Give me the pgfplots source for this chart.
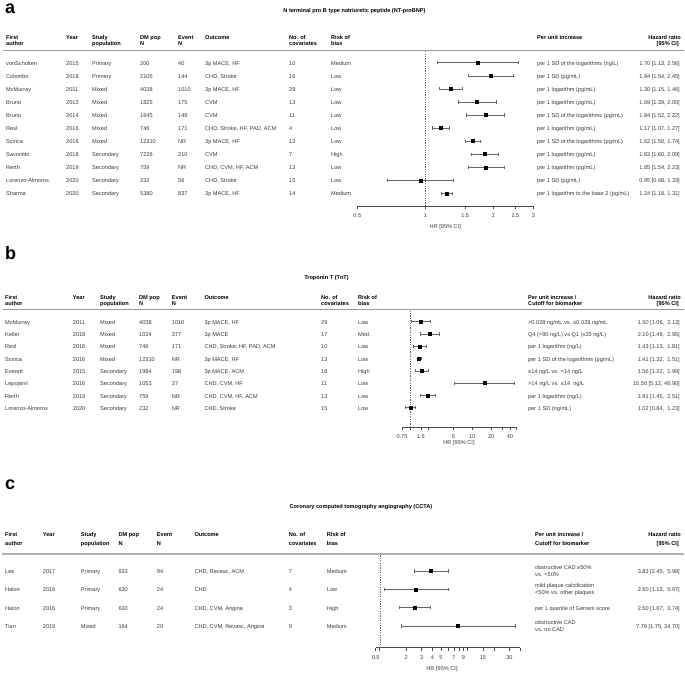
\documentclass[border=0pt]{standalone}
\usepackage{fontspec}
\setmainfont{Liberation Sans}
\usepackage{pgfplots}
\pgfplotsset{compat=1.18}

\newcommand\tf{\fontsize{5.6}{7.2}\selectfont}

\tikzset{
  txt/.style={anchor=mid west, inner sep=0pt, font=\tf, text=black!78},
  two/.style={anchor=west, inner sep=0pt, font=\tf, text=black!78, align=left},
  hd/.style={anchor=mid west, inner sep=0pt, font=\tf\bfseries},
  hrv/.style={anchor=mid east, inner sep=0pt, font=\tf, text=black!78},
  ttl/.style={inner sep=0pt, font=\tf\bfseries},
  lab/.style={anchor=west, inner sep=0pt, font=\fontsize{18}{18}\selectfont\bfseries},
  ciline/.style={black!60, line width=0.45pt, mark=|, mark size=1.6pt,
    mark options={solid, line width=0.45pt}},
  hrmark/.style={only marks, mark=square*, mark size=1.5pt, black},
  refline/.style={black!60, line width=0.4pt, dash pattern=on 1.2pt off 1.2pt},
}

\pgfplotsset{every axis/.append style={
    scale only axis, clip=false,
    axis x line*=bottom, axis y line=none,
    x axis line style={black!70, line width=0.5pt},
    tick align=outside, major tick length=3pt,
    every tick/.append style={black!70, line width=0.5pt},
    /pgf/number format/assume math mode=true,
    xticklabel style={font=\tf, text=black!78, inner sep=1pt, yshift=-3.5pt},
    xlabel style={font=\tf, text=black!78, at={(axis description cs:0.5,0)}, anchor=center, yshift=-21pt},
    ytick=\empty,
}}

% table row: y, author, year, population, DM pop, events, outcome, covariates, risk
\newcommand\trow[9]{%
  \node[txt] at (\cA,-#1) {#2};
  \node[txt] at (\cB,-#1) {#3};
  \node[txt] at (\cC,-#1) {#4};
  \node[txt] at (\cD,-#1) {#5};
  \node[txt] at (\cE,-#1) {#6};
  \node[txt] at (\cF,-#1) {#7};
  \node[txt] at (\cG,-#1) {#8};
  \node[txt] at (\cH,-#1) {#9};}
% header: y1, y2
\newcommand\hdr[2]{%
  \node[hd] at (\cA,-#1) {First}; \node[hd] at (\cA,-#2) {author};
  \node[hd] at (\cB,-#1) {Year};
  \node[hd] at (\cC,-#1) {Study}; \node[hd] at (\cC,-#2) {population};
  \node[hd] at (\cD,-#1) {DM pop}; \node[hd] at (\cD,-#2) {N};
  \node[hd] at (\cE,-#1) {Event}; \node[hd] at (\cE,-#2) {N};
  \node[hd] at (\cF,-#1) {Outcome};
  \node[hd] at (\cG,-#1) {No. of}; \node[hd] at (\cG,-#2) {covariates};
  \node[hd] at (\cH,-#1) {Risk of}; \node[hd] at (\cH,-#2) {bias};
  \node[hd, anchor=mid east] at (681,-#1) {Hazard ratio};
  \node[hd, anchor=mid east] at (679,-#2) {[95\% CI]};}

\begin{document}
\begin{tikzpicture}[x=1pt,y=1pt]
\path (0,0) rectangle (685,-673);

%% ---------------- a: NT-proBNP ----------------
\def\cA{6}\def\cB{66}\def\cC{92}\def\cD{140}\def\cE{178}\def\cF{205}\def\cG{289}\def\cH{331}\def\cI{537}
\node[lab] at (5,-9) {a};
\node[ttl] at (354.5,-11.5) {N terminal pro B type natriuretic peptide (NT-proBNP)};
\hdr{37}{42.5}
\node[hd] at (\cI,-37) {Per unit increase};
\draw[black!40, line width=1pt] (3,-50.5) -- (684,-50.5);

\trow{62.7}{vonScholten}{2015}{Primary}{200}{40}{3p MACE, HF}{10}{Medium}
\trow{75.8}{Colombo}{2018}{Primary}{2105}{144}{CHD, Stroke}{16}{Low}
\trow{88.8}{McMurray}{2011}{Mixed}{4038}{1010}{3p MACE, HF}{29}{Low}
\trow{101.9}{Bruno}{2013}{Mixed}{1825}{175}{CVM}{13}{Low}
\trow{114.9}{Bruno}{2014}{Mixed}{1645}{149}{CVM}{11}{Low}
\trow{128.0}{Resl}{2016}{Mixed}{746}{171}{CHD, Stroke, HF, PAD, ACM}{4}{Low}
\trow{141.1}{Scirica}{2016}{Mixed}{12310}{NR}{3p MACE, HF}{13}{Low}
\trow{154.1}{Savonitto}{2018}{Secondary}{7226}{210}{CVM}{7}{High}
\trow{167.2}{Rerth}{2019}{Secondary}{759}{NR}{CHD, CVM, HF, ACM}{13}{Low}
\trow{180.2}{Lorenzo-Almoros}{2020}{Secondary}{232}{56}{CHD, Stroke}{15}{Low}
\trow{193.3}{Sharma}{2020}{Secondary}{5380}{837}{3p MACE, HF}{14}{Medium}

\node[txt] at (\cI,-62.7) {per 1 SD of the logarithms (ng/L)};
\node[txt] at (\cI,-75.8) {per 1 SD (pg/mL)};
\node[txt] at (\cI,-88.8) {per 1 logarithm (pg/mL)};
\node[txt] at (\cI,-101.9) {per 1 logarithm (pg/mL)};
\node[txt] at (\cI,-114.9) {per 1 SD of the logarithms (pg/mL)};
\node[txt] at (\cI,-128.0) {per 1 logarithm (pg/mL)};
\node[txt] at (\cI,-141.1) {per 1 SD of the logarithms (pg/mL)};
\node[txt] at (\cI,-154.1) {per 1 logarithm (pg/mL)};
\node[txt] at (\cI,-167.2) {per 1 logarithm (pg/mL)};
\node[txt] at (\cI,-180.2) {per 1 SD (pg/mL)};
\node[txt] at (\cI,-193.3) {per 1 logarithm to the base 2 (pg/mL)};

\node[hrv] at (680,-62.7) {1.70 [1.13, 2.56]};
\node[hrv] at (680,-75.8) {1.94 [1.54, 2.45]};
\node[hrv] at (680,-88.8) {1.30 [1.15, 1.46]};
\node[hrv] at (680,-101.9) {1.69 [1.39, 2.05]};
\node[hrv] at (680,-114.9) {1.84 [1.52, 2.22]};
\node[hrv] at (680,-128.0) {1.17 [1.07, 1.27]};
\node[hrv] at (680,-141.1) {1.62 [1.50, 1.74]};
\node[hrv] at (680,-154.1) {1.83 [1.60, 2.09]};
\node[hrv] at (680,-167.2) {1.85 [1.54, 2.23]};
\node[hrv] at (680,-180.2) {0.95 [0.68, 1.33]};
\node[hrv] at (680,-193.3) {1.24 [1.18, 1.31]};

\begin{scope}[x=1cm,y=1cm]
\begin{axis}[xmode=log, at={(357.3pt,-206pt)}, anchor=south west,
  width=176pt, height=155pt,
  xmin=0.5, xmax=3, ymin=-206, ymax=-51, xlabel={HR [95\% CI]},
  xtick={0.5,1,1.5,2,2.5,3}, xticklabels={0.5,1,1.5,2,2.5,3}]
\addplot[refline] coordinates {(1,-206) (1,-51)};
\addplot[ciline] coordinates {(1.13,-62.7) (2.56,-62.7)};
\addplot[ciline] coordinates {(1.54,-75.8) (2.45,-75.8)};
\addplot[ciline] coordinates {(1.15,-88.8) (1.46,-88.8)};
\addplot[ciline] coordinates {(1.39,-101.9) (2.05,-101.9)};
\addplot[ciline] coordinates {(1.52,-114.9) (2.22,-114.9)};
\addplot[ciline] coordinates {(1.07,-128.0) (1.27,-128.0)};
\addplot[ciline] coordinates {(1.50,-141.1) (1.74,-141.1)};
\addplot[ciline] coordinates {(1.60,-154.1) (2.09,-154.1)};
\addplot[ciline] coordinates {(1.54,-167.2) (2.23,-167.2)};
\addplot[ciline] coordinates {(0.68,-180.2) (1.33,-180.2)};
\addplot[ciline] coordinates {(1.18,-193.3) (1.31,-193.3)};
\addplot[hrmark] coordinates {
  (1.70,-62.7) (1.94,-75.8) (1.30,-88.8) (1.69,-101.9) (1.84,-114.9)
  (1.17,-128.0) (1.62,-141.1) (1.83,-154.1) (1.85,-167.2) (0.95,-180.2)
  (1.24,-193.3)};
\end{axis}
\end{scope}

%% ---------------- b: TnT ----------------
\def\cA{5}\def\cB{72.7}\def\cC{100}\def\cD{139}\def\cE{171.7}\def\cF{204.3}\def\cG{321}\def\cH{358}\def\cI{528}
\node[lab] at (5,-253) {b};
\node[ttl] at (326.5,-278) {Troponin T (TnT)};
\hdr{297}{303}
\node[hd] at (\cI,-297) {Per unit increase /};
\node[hd] at (\cI,-303) {Cutoff for biomarker};
\draw[black!40, line width=1pt] (3,-309.5) -- (684,-309.5);

\trow{321.7}{McMurray}{2011}{Mixed}{4038}{1010}{3p MACE, HF}{29}{Low}
\trow{334.0}{Keller}{2018}{Mixed}{1034}{377}{3p MACE}{17}{Med.}
\trow{346.3}{Resl}{2016}{Mixed}{746}{171}{CHD, Stroke, HF, PAD, ACM}{10}{Low}
\trow{358.5}{Scirica}{2016}{Mixed}{12310}{NR}{3p MACE, HF}{13}{Low}
\trow{370.8}{Everett}{2015}{Secondary}{1984}{198}{3p MACE, ACM}{18}{High}
\trow{383.1}{Lepojarvi}{2016}{Secondary}{1053}{37}{CHD, CVM, HF}{11}{Low}
\trow{395.4}{Rerth}{2019}{Secondary}{759}{NR}{CHD, CVM, HF, ACM}{13}{Low}
\trow{407.7}{Lorenzo-Almoros}{2020}{Secondary}{232}{NR}{CHD, Stroke}{15}{Low}

\node[txt] at (\cI,-321.7) {>0.028 ng/mL vs. ≤0.028 ng/mL};
\node[txt] at (\cI,-334.0) {Q4 (>90 ng/L) vs Q1 (≤35 ng/L)};
\node[txt] at (\cI,-346.3) {per 1 logarithm (ng/L)};
\node[txt] at (\cI,-358.5) {per 1 SD of the logarithms (pg/mL)};
\node[txt] at (\cI,-370.8) {≥14 ng/L vs. <14 ng/L};
\node[txt] at (\cI,-383.1) {>14 ng/L vs. ≤14~ ng/L};
\node[txt] at (\cI,-395.4) {per 1 logarithm (ng/L)};
\node[txt] at (\cI,-407.7) {per 1 SD (ng/mL)};

\node[hrv] at (680,-321.7) {1.50 [1.06,~ 2.13]};
\node[hrv] at (680,-334.0) {2.10 [1.49,~ 2.95]};
\node[hrv] at (680,-346.3) {1.43 [1.13,~ 1.81]};
\node[hrv] at (680,-358.5) {1.41 [1.32,~ 1.51]};
\node[hrv] at (680,-370.8) {1.56 [1.22,~ 1.99]};
\node[hrv] at (680,-383.1) {15.50 [5.12, 46.90]};
\node[hrv] at (680,-395.4) {1.91 [1.45,~ 2.51]};
\node[hrv] at (680,-407.7) {1.02 [0.84,~ 1.23]};

\begin{scope}[x=1cm,y=1cm]
\begin{axis}[xmode=log, at={(402pt,-427pt)}, anchor=south west,
  width=114pt, height=117.5pt,
  xmin=0.75, xmax=50, ymin=-427, ymax=-309.5, xlabel={HR [95\% CI]},
  xtick={0.75,1,1.5,2,5,10,20,30,40,50},
  xticklabels={0.75,,1.5,,5,10,20,,40,},
  xlabel style={yshift=5pt}]
\addplot[refline] coordinates {(1,-427) (1,-309.5)};
\addplot[ciline] coordinates {(1.06,-321.7) (2.13,-321.7)};
\addplot[ciline] coordinates {(1.49,-334.0) (2.95,-334.0)};
\addplot[ciline] coordinates {(1.13,-346.3) (1.81,-346.3)};
\addplot[ciline] coordinates {(1.32,-358.5) (1.51,-358.5)};
\addplot[ciline] coordinates {(1.22,-370.8) (1.99,-370.8)};
\addplot[ciline] coordinates {(5.12,-383.1) (46.90,-383.1)};
\addplot[ciline] coordinates {(1.45,-395.4) (2.51,-395.4)};
\addplot[ciline] coordinates {(0.84,-407.7) (1.23,-407.7)};
\addplot[hrmark] coordinates {
  (1.50,-321.7) (2.10,-334.0) (1.43,-346.3) (1.41,-358.5) (1.56,-370.8)
  (15.50,-383.1) (1.91,-395.4) (1.02,-407.7)};
\end{axis}
\end{scope}

%% ---------------- c: CCTA ----------------
\def\cA{5}\def\cB{42.7}\def\cC{80.7}\def\cD{118.3}\def\cE{156.7}\def\cF{194.3}\def\cG{288.7}\def\cH{326.7}\def\cI{535}
\node[lab] at (5,-485) {c};
\node[ttl] at (361,-507) {Coronary computed tomography angiography (CCTA)};
\hdr{534}{543.3}
\node[hd] at (\cI,-534) {Per unit increase /};
\node[hd] at (\cI,-543.3) {Cutoff for biomarker};
\draw[black!30, line width=1.6pt] (2,-553.8) -- (684,-553.8);

\trow{571}{Lee}{2017}{Primary}{933}{94}{CHD, Revasc, ACM}{7}{Medium}
\trow{589.3}{Halon}{2019}{Primary}{630}{24}{CHD}{4}{Low}
\trow{607.7}{Halon}{2016}{Primary}{630}{24}{CHD, CVM, Angina}{3}{High}
\trow{626}{Tian}{2019}{Mixed}{164}{20}{CHD, CVM, Revasc, Angina}{9}{Medium}

\node[two] at (\cI,-571) {obstructive CAD ≥50\%\\vs. <50\%};
\node[two] at (\cI,-589.3) {mild plaque calcification\\<50\% vs. other plaques};
\node[txt] at (\cI,-607.7) {per 1 quartile of Gensini score};
\node[two] at (\cI,-626) {obstructive CAD\\vs. no CAD};

\node[hrv] at (680,-571) {3.83 [2.45,~ 5.98]};
\node[hrv] at (680,-589.3) {2.60 [1.13,~ 5.97]};
\node[hrv] at (680,-607.7) {2.50 [1.67,~ 3.74]};
\node[hrv] at (680,-626) {7.79 [1.75, 34.70]};

\begin{scope}[x=1cm,y=1cm]
\begin{axis}[xmode=log, at={(375.7pt,-647.7pt)}, anchor=south west,
  width=144.6pt, height=92.7pt,
  xmin=0.9, xmax=40, ymin=-647.7, ymax=-555, xlabel={HR [95\% CI]},
  xtick={0.9,1,2,3,4,5,6,7,8,9,10,15,20,30,40},
  xticklabels={0.9,,2,3,4,5,,7,,9,,15,,30,},
  xlabel style={xshift=-6pt}]
\addplot[refline] coordinates {(1,-647.7) (1,-555)};
\addplot[ciline] coordinates {(2.45,-571) (5.98,-571)};
\addplot[ciline] coordinates {(1.13,-589.3) (5.97,-589.3)};
\addplot[ciline] coordinates {(1.67,-607.7) (3.74,-607.7)};
\addplot[ciline] coordinates {(1.75,-626) (34.70,-626)};
\addplot[hrmark] coordinates {
  (3.83,-571) (2.60,-589.3) (2.50,-607.7) (7.79,-626)};
\end{axis}
\end{scope}
\end{tikzpicture}
\end{document}
